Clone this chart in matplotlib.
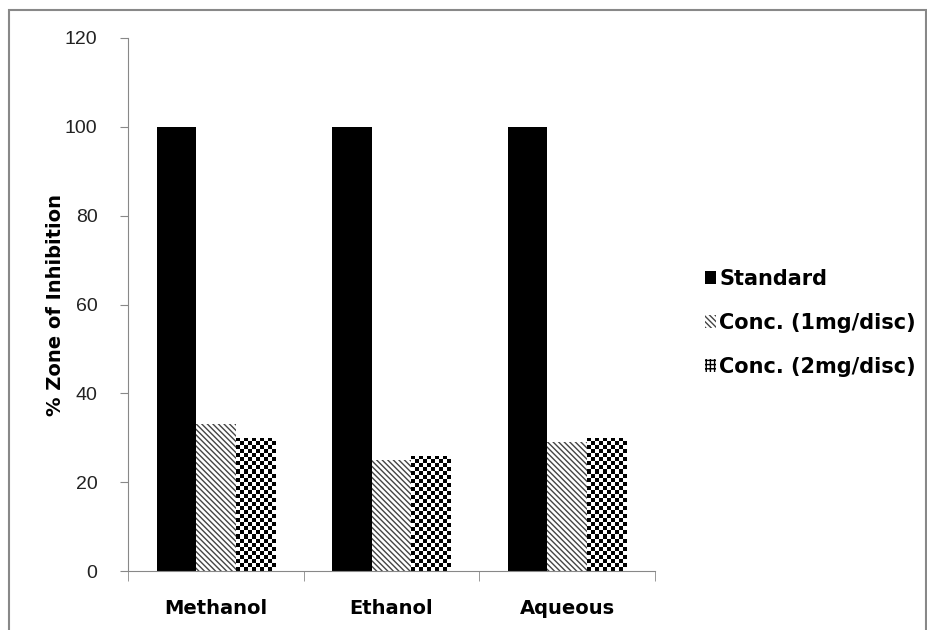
import numpy as np
import matplotlib.pyplot as plt
from matplotlib.patches import Rectangle, Patch

# zone of inhibition (%) per extract
categories = ['Methanol', 'Ethanol', 'Aqueous']
standard = [100, 100, 100]
conc_1mg = [33, 25, 29]
conc_2mg = [30, 26, 30]
series_names = ['Standard', 'Conc. (1mg/disc)', 'Conc. (2mg/disc)']
y_ticks = [0, 20, 40, 60, 80, 100, 120]

plt.rcParams['hatch.linewidth'] = 1.0

fig = plt.figure(figsize=(9.28, 6.3), dpi=100)
ax = fig.add_axes([128/928, 1 - 571/630, (655-128)/928, (571-38)/630])

x = np.arange(len(categories))
w = 0.225
b1 = ax.bar(x - w, standard, w, color='black', edgecolor='none')
b2 = ax.bar(x, conc_1mg, w, color='white', edgecolor='#444444', hatch='\\\\\\\\\\\\', linewidth=0)
b3 = ax.bar(x + w, conc_2mg, w, color='white', edgecolor='none')

# checkerboard fill for the 2mg bars, clipped to each bar
px_per_unit = (571 - 38) / 120.0
for r in b3.patches:
    x0, wd, h = r.get_x(), r.get_width(), r.get_height()
    ncols = 10
    nrows = max(1, int(round(h * px_per_unit / 4.0)))
    board = (np.indices((nrows, ncols)).sum(axis=0) % 2).astype(float)
    im = ax.imshow(board, cmap='gray', extent=(x0, x0 + wd, 0, h),
                   interpolation='nearest', aspect='auto', zorder=2)
    im.set_clip_path(r)

ax.set_xlim(-0.5, 2.5)
ax.set_ylim(0, 120)
ax.set_yticks(y_ticks)
ax.set_yticklabels([str(v) for v in y_ticks], fontfamily='Liberation Sans',
                   fontsize=14, color='#222222')
ax.set_xticks([])
ax.set_xticks([-0.5, 0.5, 1.5, 2.5], minor=True)
ax.tick_params(axis='x', which='minor', direction='out', length=7, color='#888888')
ax.tick_params(axis='y', direction='out', length=6, color='#888888', pad=16)
for i, c in enumerate(categories):
    ax.text(i, -6.3, c, ha='center', va='top', fontsize=14, fontweight='heavy',
            family='DejaVu Sans', transform=ax.transData, clip_on=False)

for s in ['top', 'right']:
    ax.spines[s].set_visible(False)
for s in ['left', 'bottom']:
    ax.spines[s].set_color('#888888')

ax.set_ylabel('% Zone of Inhibition', fontsize=14, fontweight='heavy')
ax.yaxis.set_label_coords(-0.12, 0.5)

handles = [Patch(facecolor='black'),
           Patch(facecolor='white', edgecolor='#444444', hatch='\\\\\\\\\\\\', linewidth=0),
           Patch(facecolor='white', edgecolor='black', hatch='++++', linewidth=0)]
leg = fig.legend(handles, series_names, loc='upper left',
                 bbox_to_anchor=(686/928, 1 - 250/630), frameon=False,
                 handlelength=0.55, handleheight=0.55, handletextpad=0.15,
                 labelspacing=1.16, prop={'weight': 'heavy', 'size': 15})

# chart border
fig.patches.append(Rectangle((9/928, -0.02), (926-9)/928, 1 - 10/630 + 0.02,
                             transform=fig.transFigure, fill=False,
                             edgecolor='#888888', linewidth=1.5))

fig.savefig('out.png', dpi=100)
